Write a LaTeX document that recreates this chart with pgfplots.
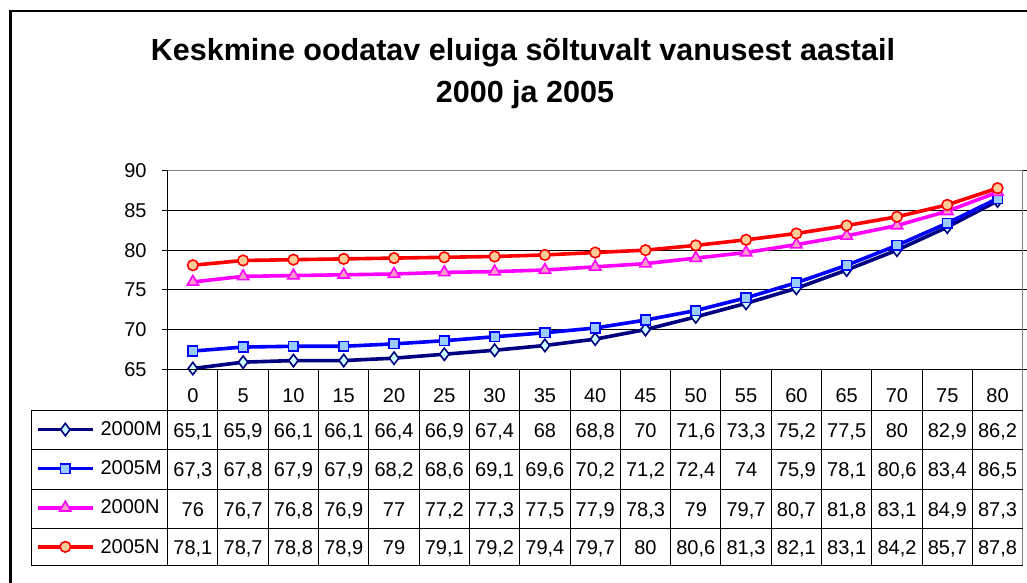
\documentclass[border=0pt]{standalone}
\usepackage{fontspec}
\setmainfont{Liberation Sans}
\usepackage{pgfplots}
\usepackage{pgfplotstable}
\pgfplotsset{compat=1.18}

\definecolor{navyc}{RGB}{0,0,128}
\definecolor{fillA}{RGB}{204,255,255}
\definecolor{blueB}{RGB}{0,0,255}
\definecolor{fillB}{RGB}{153,204,255}
\definecolor{magC}{RGB}{255,0,255}
\definecolor{fillC}{RGB}{255,153,204}
\definecolor{redD}{RGB}{255,0,0}
\definecolor{fillD}{RGB}{255,204,153}
\definecolor{bordergray}{RGB}{128,128,128}

\pgfplotstableread{
age m2000 m2005 n2000 n2005
0  65.1 67.3 76   78.1
5  65.9 67.8 76.7 78.7
10 66.1 67.9 76.8 78.8
15 66.1 67.9 76.9 78.9
20 66.4 68.2 77   79
25 66.9 68.6 77.2 79.1
30 67.4 69.1 77.3 79.2
35 68   69.6 77.5 79.4
40 68.8 70.2 77.9 79.7
45 70   71.2 78.3 80
50 71.6 72.4 79   80.6
55 73.3 74   79.7 81.3
60 75.2 75.9 80.7 82.1
65 77.5 78.1 81.8 83.1
70 80   80.6 83.1 84.2
75 82.9 83.4 84.9 85.7
80 86.2 86.5 87.3 87.8
}\lifedata

\newcommand{\bigfont}{\fontsize{20}{24}\selectfont}

\pgfplotsset{
  tablerow/.style={forget plot, draw=none, mark=none,
    nodes near coords, point meta=explicit,
    every node near coord/.append style={anchor=center, inner sep=0pt,
      text height=14.3pt, text depth=0pt, font=\bigfont, text=black}},
}

\begin{document}
\begin{tikzpicture}[x=1pt, y=-1pt]
\useasboundingbox (0,0) rectangle (1027,582);

% chart frame (right and bottom edges fall outside the picture)
\draw[line width=2.2pt] (10.5,600) -- (10.5,11) -- (1040,11);

% title
\node[anchor=base, font=\fontsize{30.5}{36}\selectfont\bfseries] at (523,60) {Keskmine oodatav eluiga sõltuvalt vanusest aastail};
\node[anchor=base, font=\fontsize{30.5}{36}\selectfont\bfseries] at (525,102) {2000 ja 2005};

\begin{axis}[
  at={(167.7pt,-369.3pt)}, anchor=south west,
  scale only axis, width=855pt, height=198.6pt,
  xmin=-0.5, xmax=16.5, ymin=65, ymax=90,
  clip=false,
  axis line style={draw=none},
  xtick={0,...,16},
  xticklabels from table={\lifedata}{age},
  xtick style={draw=none},
  xticklabel style={anchor=center, yshift=-20pt, font=\bigfont, text height=14.3pt, text depth=0pt},
  ytick={65,70,...,90},
  ytick style={black, line width=1pt},
  tick align=outside, major tick length=6pt,
  yticklabel style={anchor=east, inner sep=0pt, xshift=-15pt, font=\bigfont},
  ymajorgrids, grid style={black, line width=1pt},
  /pgf/number format/.cd, use comma, 1000 sep={}, assume math mode=true,
  /pgfplots/.cd,
  legend style={at={(-0.154,-0.2049)}, anchor=north west, draw=none, fill=none,
    inner sep=0pt, outer sep=0pt, row sep=0pt, column sep=6pt,
    font=\bigfont,
    nodes={inner sep=0pt, minimum height=39.1pt}},
  legend cell align=left,
  legend image code/.code={\draw[mark repeat=2, mark phase=2, #1] plot coordinates {(0pt,0pt) (27.5pt,0pt) (55pt,0pt)};},
]
\addplot[navyc, line width=3.6pt, mark=diamond*, mark size=6.2pt,
  mark options={fill=fillA, draw=navyc, line width=1.6pt}]
  table[x expr=\coordindex, y=m2000] {\lifedata};
\addlegendentry{2000M}
\addplot[blueB, line width=3.6pt, mark=square*, mark size=4.8pt,
  mark options={fill=fillB, draw=blueB, line width=1.6pt}]
  table[x expr=\coordindex, y=m2005] {\lifedata};
\addlegendentry{2005M}
\addplot[magC, line width=3.6pt, mark=triangle*, mark size=6.5pt,
  mark options={fill=fillC, draw=magC, line width=1.6pt}]
  table[x expr=\coordindex, y=n2000] {\lifedata};
\addlegendentry{2000N}
\addplot[redD, line width=3.6pt, mark=*, mark size=5.3pt,
  mark options={fill=fillD, draw=redD, line width=1.6pt}]
  table[x expr=\coordindex, y=n2005] {\lifedata};
\addlegendentry{2005N}

% data table values
\addplot[tablerow] table[x expr=\coordindex, y expr=57.32, meta=m2000] {\lifedata};
\addplot[tablerow] table[x expr=\coordindex, y expr=52.35, meta=m2005] {\lifedata};
\addplot[tablerow] table[x expr=\coordindex, y expr=47.35, meta=n2000] {\lifedata};
\addplot[tablerow] table[x expr=\coordindex, y expr=42.56, meta=n2005] {\lifedata};
\end{axis}

% plot area border
\draw[bordergray, line width=1.5pt] (167.7,170.7) -- (1022.7,170.7) -- (1022.7,565.7);
\draw[black, line width=1.2pt] (167.7,170.7) -- (167.7,565.7);
% data table grid
\foreach \k in {1,...,16} {
  \draw[black, line width=1pt] ({167.7+50.294*\k},369.3) -- ({167.7+50.294*\k},565.7);
}
\draw[black, line width=1pt] (167.7,369.3) -- (1022.7,369.3);
\foreach \yy in {410,449.5,489,528,565.7} {
  \draw[black, line width=1pt] (31.7,\yy) -- (1022.7,\yy);
}
\draw[black, line width=1pt] (31.7,410) -- (31.7,565.7);
\end{tikzpicture}
\end{document}
